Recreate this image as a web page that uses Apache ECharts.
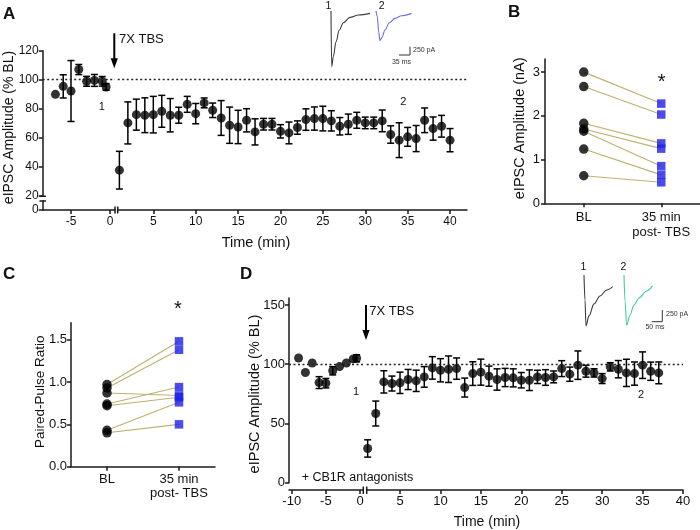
<!DOCTYPE html>
<html><head><meta charset="utf-8">
<script src="https://cdn.jsdelivr.net/npm/echarts@6/dist/echarts.min.js"></script>
<style>html,body{margin:0;padding:0;background:#fff}#c{width:700px;height:530px}</style>
</head><body><div id="c"></div>
<script>
// ---------- Panel A data (% baseline, mean and SEM) ----------
const aPreTime = [-7, -6, -5, -4, -3, -2, -1, -0.5];
const aPreMean = [89.9, 95.4, 92.2, 107, 98.9, 99.5, 98.9, 95];
const aPreSem  = [0, 8, 21, 3.5, 3.4, 4.1, 3.3, 2.3];
const aPostTime = [1,2,3,4,5,6,7,8,9,10,11,12,13,14,15,16,17,18,19,20,21,22,23,24,25,26,27,28,29,30,31,32,33,34,35,36,37,38,39,40];
const aPostMean = [37.6,70.2,75.9,75.5,75.9,78.2,75.5,75.5,83,76.6,84,78.9,73.6,68.6,67.4,72,64,69.3,69.3,64.4,63.3,67,72.5,73.2,73.2,71.6,67.9,69.3,72,70.2,70.2,71.6,62.2,58.3,60.6,59.4,72,66.3,67.9,58.3];
const aPostSem  = [13,14.5,10.7,12,12.6,11,11.5,5.5,5.5,7,3.4,5,12,12.5,11.5,8,9,4,4,4.6,7.5,4.6,7.4,8,8.5,7,6,7,5.5,4,4,7.5,6,12,6.5,9,8.5,8,7.5,8];
const aLeftTicks = [-5, 0];
const aRightTicks = [5, 10, 15, 20, 25, 30, 35, 40];
const aYTicks = [20, 40, 60, 80, 100, 120];

// ---------- Panel B data (nA) ----------
const pairCats = ['BL', '35 min\npost- TBS'];
const bBL   = [3.0, 2.67, 1.83, 1.70, 1.65, 1.24, 0.63];
const bPost = [2.28, 2.03, 1.37, 1.25, 0.85, 0.65, 0.48];
const bYTicks = [0, 1, 2, 3];

// ---------- Panel C data (paired-pulse ratio) ----------
const cBL   = [0.97, 0.93, 0.87, 0.74, 0.72, 0.43, 0.40];
const cPost = [1.48, 1.38, 0.84, 0.94, 0.82, 0.76, 0.50];
const cYTicks = [0, 0.5, 1, 1.5];

// ---------- Panel D data (% baseline, + CB1R antagonists) ----------
const dPreTime = [-9, -8, -7, -6, -5, -4, -3, -2, -1, -0.5];
const dPreMean = [105.3, 93, 101, 84.5, 84, 94.5, 98, 101, 104.5, 105];
const dPreSem  = [0, 0, 0, 5, 4, 3.5, 0, 0, 0, 3];
const dPostTime = [1,2,3,4,5,6,7,8,9,10,11,12,13,14,15,16,17,18,19,20,21,22,23,24,25,26,27,28,29,30,31,32,33,34,35,36,37];
const dPostMean = [28.9,58.4,85.1,83.7,84.3,87.1,86,89.3,96.9,94.9,95.8,96.3,80.3,92.1,93.3,89.9,87.1,88.8,88.5,86.5,86.5,89.3,88.8,89.3,96.3,91.6,99.2,94.1,92.7,87.9,97.8,95.8,92.7,92.1,99.2,94.1,92.7];
const dPostSem  = [7.3,10.5,9.4,6.3,9,8.5,9,8.7,9.5,9.8,11.2,9,8,10,11,8.5,9,7.7,7.6,6.5,8.7,5.6,6.6,5,6.7,6,12,5,3.5,4.2,3.5,7.3,11.5,9.8,11.2,7.7,9.2];
const dLeftTicks = [-10, -5, 0];
const dRightTicks = [5, 10, 15, 20, 25, 30, 35, 40];
const dYTicks = [0, 50, 100, 150];

// ---------- Example traces [ms, pA] ----------
const traceA1 = [[0,0],[2.3,-1670],[7.6,-1370],[16.4,-920],[27.1,-570],[40.2,-350],[62.1,-190],[89.3,-120],[127.5,-70]];
const traceA2 = [[0,0],[4.4,-170],[8.7,-620],[13.1,-890],[19.6,-790],[29.4,-570],[43.6,-350],[62.1,-220],[84,-140],[116.7,-70]];
const traceD1 = [[0,0],[4.7,-535],[9.4,-1091],[23.6,-877],[47.2,-620],[75.5,-450],[107,-321],[135.4,-250]];
const traceD2 = [[0,0],[4.7,-556],[12.7,-1077],[28.3,-856],[47.2,-642],[70.8,-492],[107,-342],[135,-235]];

// ================= build =================
const FONT = '"Liberation Sans", Arial, Helvetica, sans-serif';
const AX = '#1a1a1a';
const chart = echarts.init(document.getElementById('c'), null, {renderer: 'canvas', width: 700, height: 530});

const zip3 = (t, m, s) => t.map((x, i) => [x, m[i], s[i]]);
const zip2 = (t, m) => t.map((x, i) => [x, m[i]]);

function axLine(show) { return {show: show, onZero: false, lineStyle: {color: AX, width: 1.5}}; }
function axTick(vals) {
  return {show: true, length: 4, customValues: vals, lineStyle: {color: AX, width: 1.5}};
}
function axLabel(size, margin, vals, fmt) {
  const o = {show: true, color: '#111', fontFamily: FONT, fontSize: size, margin: margin,
    hideOverlap: false, customValues: vals};
  if (fmt) o.formatter = fmt;
  return o;
}
function shownAxis(gi, min, max, vals, size, margin, extra, fmt) {
  return Object.assign({type: 'value', gridIndex: gi, min: min, max: max, axisLine: axLine(true),
    axisTick: axTick(vals), axisLabel: axLabel(size, margin, vals, fmt), splitLine: {show: false}}, extra || {});
}
function hidden(gi, min, max) {
  return {type: 'value', gridIndex: gi, min: min, max: max, show: false,
    axisLine: {show: false, onZero: false}, splitLine: {show: false}};
}

const grids = [
  {left: 42.7, top: 50.7, width: 72.3, height: 145},     // 0 A top-left
  {left: 117.7, top: 50.7, width: 349.3, height: 145},   // 1 A top-right
  {left: 42.7, top: 201, width: 72.3, height: 9},        // 2 A bottom-left (0 segment)
  {left: 117.7, top: 201, width: 349.3, height: 9},      // 3 A bottom-right
  {left: 331, top: 7.7, width: 39.8, height: 61.7},      // 4 A trace 1
  {left: 376, top: 7.7, width: 36.7, height: 61.7},      // 5 A trace 2
  {left: 545, top: 59, width: 155, height: 144.3},       // 6 B
  {left: 71, top: 322.7, width: 144, height: 144},       // 7 C
  {left: 289, top: 298, width: 74.3, height: 184.7},     // 8 D left
  {left: 366.7, top: 298, width: 316.3, height: 184.7},  // 9 D right
  {left: 584, top: 270.3, width: 29.7, height: 60.7},    // 10 D trace 1
  {left: 624, top: 270.3, width: 29.7, height: 60.7}     // 11 D trace 2
].map(g => Object.assign({outerBoundsMode: 'none', containLabel: false}, g));

const aLmin = -8.63, aLmax = 0.64, aRmin = 0.80, aRmax = 42;
const dLmin = -10.4, dLmax = 0.48, dRmin = 0.88, dRmax = 40;

const catAxis = (gi, lh, margin) => ({type: 'category', gridIndex: gi, data: pairCats, boundaryGap: true, axisLine: axLine(true),
  axisTick: {show: true, alignWithLabel: true, interval: 0, length: 4, lineStyle: {color: AX, width: 1.5}},
  axisLabel: {color: '#111', fontFamily: FONT, fontSize: 13, lineHeight: lh, margin: margin, interval: 0, hideOverlap: false}});

const xAxes = [
  hidden(0, aLmin, aLmax),
  hidden(1, aRmin, aRmax),
  shownAxis(2, aLmin, aLmax, aLeftTicks, 12, 6),
  shownAxis(3, aRmin, aRmax, aRightTicks, 12, 6),
  hidden(4, 0, 130),
  hidden(5, 0, 120),
  catAxis(6, 14.5, 7),
  catAxis(7, 13.5, 6),
  shownAxis(8, dLmin, dLmax, dLeftTicks, 13, 5, {offset: 7.3}),
  shownAxis(9, dRmin, dRmax, dRightTicks, 13, 5, {offset: 7.3}),
  hidden(10, 0, 140),
  hidden(11, 0, 140)
];

const yAxes = [
  shownAxis(0, 20, 120, aYTicks, 12, 4),
  hidden(1, 20, 120),
  shownAxis(2, 0, 6.2, [0], 12, 4),
  hidden(3, 0, 6.2),
  hidden(4, -1750, 100),
  hidden(5, -1750, 100),
  shownAxis(6, 0, 3.3, bYTicks, 13, 5),
  shownAxis(7, 0, 1.7, cYTicks, 13, 4, null, v => Number(v).toFixed(1)),
  shownAxis(8, 0, 155.9, dYTicks, 13, 4),
  hidden(9, 0, 155.9),
  hidden(10, -1200, 100),
  hidden(11, -1200, 100)
];

function errBars(axis, data) {
  return {
    type: 'custom', xAxisIndex: axis, yAxisIndex: axis, data: data, silent: true, z: 3,
    encode: {x: 0, y: 1},
    renderItem: function (params, api) {
      const x = api.value(0), m = api.value(1), e = api.value(2);
      if (!e) return null;
      const t = api.coord([x, m + e]), b = api.coord([x, m - e]);
      const hw = 3.5, st = {stroke: '#000', lineWidth: 1.5};
      return {type: 'group', children: [
        {type: 'line', shape: {x1: t[0], y1: t[1], x2: b[0], y2: b[1]}, style: st},
        {type: 'line', shape: {x1: t[0] - hw, y1: t[1], x2: t[0] + hw, y2: t[1]}, style: st},
        {type: 'line', shape: {x1: b[0] - hw, y1: b[1], x2: b[0] + hw, y2: b[1]}, style: st}
      ]};
    }
  };
}
function dots(axis, data, size) {
  return {type: 'scatter', xAxisIndex: axis, yAxisIndex: axis, data: data, symbol: 'circle',
    symbolSize: size || 9, itemStyle: {color: '#000'}, z: 4, silent: true};
}
function refLine(axis) {
  return {type: 'line', xAxisIndex: axis, yAxisIndex: axis, data: [], silent: true,
    markLine: {silent: true, symbol: 'none', label: {show: false}, animation: false,
      lineStyle: {color: '#222', type: [2, 2.5], width: 1.3}, data: [{yAxis: 100}]}};
}
function trace(axis, data, color) {
  return {type: 'line', xAxisIndex: axis, yAxisIndex: axis, data: data, showSymbol: false, silent: true,
    smooth: 0.35, smoothMonotone: 'x', lineStyle: {color: color, width: 1.1}, z: 2};
}

const series = [];
// Panel A
series.push(refLine(0), refLine(1));
series.push(errBars(0, zip3(aPreTime, aPreMean, aPreSem)), dots(0, zip2(aPreTime, aPreMean)));
series.push(errBars(1, zip3(aPostTime, aPostMean, aPostSem)), dots(1, zip2(aPostTime, aPostMean)));
series.push(trace(4, traceA1, '#3a3a3a'), trace(5, traceA2, '#6a6af0'));
// Panel B & C paired lines + markers
function pairs(axis, bl, post) {
  bl.forEach((v, i) => series.push({type: 'line', xAxisIndex: axis, yAxisIndex: axis, data: [v, post[i]],
    showSymbol: false, silent: true, lineStyle: {color: '#bfb06e', width: 1.1}, z: 2}));
  series.push({type: 'scatter', xAxisIndex: axis, yAxisIndex: axis, data: bl.map(v => [0, v]),
    symbol: 'circle', symbolSize: 9.5, itemStyle: {color: '#000'}, z: 4, silent: true});
  series.push({type: 'scatter', xAxisIndex: axis, yAxisIndex: axis, data: post.map(v => [1, v]),
    symbol: 'rect', symbolSize: 8.5, itemStyle: {color: '#1f1fe6'}, z: 4, silent: true});
}
pairs(6, bBL, bPost);
pairs(7, cBL, cPost);
// Panel D
series.push(refLine(8), refLine(9));
series.push(errBars(8, zip3(dPreTime, dPreMean, dPreSem)), dots(8, zip2(dPreTime, dPreMean)));
series.push(errBars(9, zip3(dPostTime, dPostMean, dPostSem)), dots(9, zip2(dPostTime, dPostMean)));
series.push(trace(10, traceD1, '#3a3a3a'), trace(11, traceD2, '#3ecf9e'));

// ---------- text & annotation graphics ----------
function txt(x, y, s, size, opts) {
  opts = opts || {};
  return {type: 'text', x: x, y: y, rotation: opts.rot || 0, silent: true, z: 10,
    style: {text: s, fill: opts.color || '#111', font: (opts.weight || 'normal') + ' ' + size + 'px ' + FONT,
      align: opts.align || 'center', verticalAlign: 'middle'}};
}
function seg(x1, y1, x2, y2, w, c) {
  return {type: 'line', silent: true, z: 10, shape: {x1: x1, y1: y1, x2: x2, y2: y2},
    style: {stroke: c || AX, lineWidth: w || 1.5}};
}
function arrow(x, y1, y2) {
  return [seg(x, y1, x, y2 - 8, 2, '#000'),
    {type: 'polygon', silent: true, z: 10, shape: {points: [[x - 3.6, y2 - 10], [x + 3.6, y2 - 10], [x, y2]]}, style: {fill: '#000'}}];
}
const R = Math.PI / 2;
const graphics = [
  // panel letters
  txt(3, 14.2, 'A', 17, {weight: 'bold', align: 'left'}),
  txt(508, 12.5, 'B', 17, {weight: 'bold', align: 'left'}),
  txt(3, 274, 'C', 17, {weight: 'bold', align: 'left'}),
  txt(240, 274.5, 'D', 17, {weight: 'bold', align: 'left'}),
  // axis titles
  txt(9, 127.5, 'eIPSC Amplitude (% BL)', 14, {rot: R}),
  txt(256, 242.5, 'Time (min)', 14.5),
  txt(520, 128.3, 'eIPSC Amplitude (nA)', 14.5, {rot: R}),
  txt(40, 391.7, 'Paired-Pulse Ratio', 13.5, {rot: R}),
  txt(255, 394, 'eIPSC Amplitude (% BL)', 14.5, {rot: R}),
  txt(487, 521.7, 'Time (min)', 14),
  // annotations A
  txt(119, 39, '7X TBS', 13, {align: 'left'}),
  txt(101.7, 106.7, '1', 11),
  txt(403.3, 101.7, '2', 11),
  txt(328.5, 6, '1', 10.5),
  txt(381.7, 6, '2', 10.5),
  seg(399, 55, 410, 55, 1, '#333'), seg(410, 46.7, 410, 55, 1, '#333'),
  txt(413, 50.5, '250 pA', 7, {align: 'left', color: '#333'}),
  txt(401.5, 62, '35 ms', 7, {color: '#333'}),
  // annotations B / C
  txt(661.7, 82, '*', 20),
  txt(178, 309, '*', 20),
  // annotations D
  txt(369.3, 311.7, '7X TBS', 13, {align: 'left'}),
  txt(356, 391.5, '1', 11),
  txt(641, 395, '2', 11),
  txt(583.3, 266.7, '1', 10.5),
  txt(623.3, 266.7, '2', 10.5),
  seg(651.7, 321.7, 662.3, 321.7, 1, '#333'), seg(662.3, 310, 662.3, 321.7, 1, '#333'),
  txt(666, 314.5, '250 pA', 7, {align: 'left', color: '#333'}),
  txt(655, 327.5, '50 ms', 7, {color: '#333'}),
  txt(301.7, 477.3, '+ CB1R antagonists', 12.5, {align: 'left'}),
  // axis break marks
  seg(115, 206.5, 115, 213.5, 1.5), seg(117.7, 206.5, 117.7, 213.5, 1.5),
  seg(39.5, 196.3, 46, 196.3, 1.5), seg(39.5, 201, 46, 201, 1.5),
  seg(363.3, 486.5, 363.3, 494, 1.5), seg(366.7, 486.5, 366.7, 494, 1.5)
].concat(arrow(114.3, 33.3, 68.3), arrow(366, 305, 340));

chart.setOption({
  animation: false,
  backgroundColor: '#fff',
  textStyle: {fontFamily: FONT},
  grid: grids,
  xAxis: xAxes,
  yAxis: yAxes,
  series: series,
  graphic: {elements: graphics}
});
</script>
</body></html>
